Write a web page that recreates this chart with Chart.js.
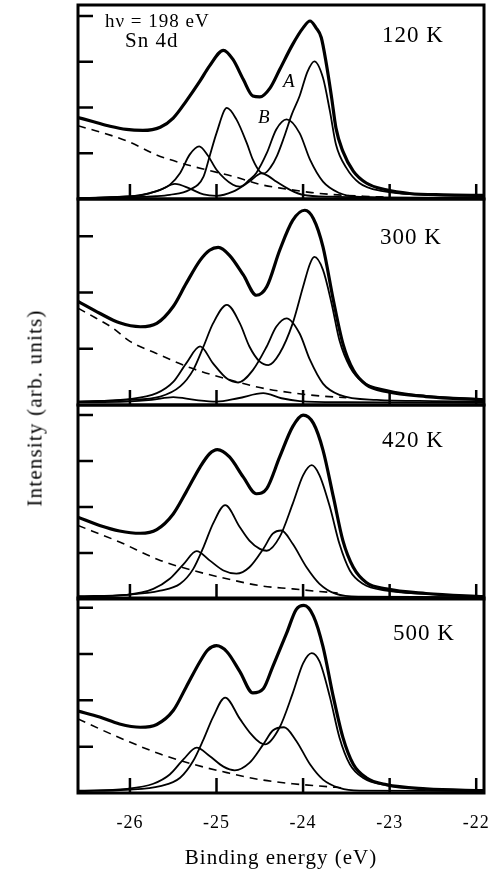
<!DOCTYPE html>
<html><head><meta charset="utf-8">
<script src="https://cdn.jsdelivr.net/npm/chart.js@4.4.1/dist/chart.umd.min.js"></script>
<style>
html,body{margin:0;padding:0;background:#fff;overflow:hidden;}
#wrap{position:relative;width:488px;height:871px;overflow:hidden;background:#fff;}
canvas{position:absolute;left:0;}
#ylab{position:absolute;left:35px;top:408px;transform:translate(-50%,-50%) rotate(-90deg);font:21px "Liberation Serif",serif;letter-spacing:1.2px;white-space:nowrap;color:#000;}
</style></head><body>
<div id="wrap">
<canvas id="c1" width="510" height="202" style="top:1px;width:510px;height:202px"></canvas>
<canvas id="c2" width="510" height="214" style="top:195px;width:510px;height:214px"></canvas>
<canvas id="c3" width="510" height="202" style="top:401px;width:510px;height:202px"></canvas>
<canvas id="c4" width="510" height="277" style="top:594px;width:510px;height:277px"></canvas>
<div id="ylab"></div>
</div>
<script>
// ---- axis / tick data ----
const xMin = -26.6, xMax = -21.91;
const xTickValues = [-26, -25, -24, -23, -22];
const yTicksTall = [1, 2, 3, 4];
const yTicksShort = [1, 2, 3];
const panelTemps = ['120 K', '300 K', '420 K', '500 K'];
const xTitle = 'Binding energy (eV)';
const yTitle = 'Intensity (arb. units)';

// ---- panel 1 (120 K) ----
const p1Total = [[-26.6,1.78],[-26.42,1.69],[-26.23,1.59],[-26.04,1.52],[-25.85,1.50],[-25.65,1.57],[-25.5,1.77],[-25.35,2.14],[-25.19,2.58],[-25.08,2.91],[-24.92,3.25],[-24.81,3.05],[-24.69,2.61],[-24.58,2.25],[-24.5,2.23],[-24.38,2.43],[-24.27,2.83],[-24.12,3.38],[-24.0,3.74],[-23.92,3.89],[-23.85,3.74],[-23.79,3.53],[-23.73,2.94],[-23.67,2.21],[-23.62,1.55],[-23.54,1.04],[-23.42,0.61],[-23.27,0.35],[-23.04,0.20],[-22.77,0.12],[-22.38,0.09],[-21.9,0.08]];
const p1A = [[-26.6,0.02],[-26.0,0.04],[-25.7,0.06],[-25.54,0.09],[-25.31,0.20],[-25.15,0.49],[-25.08,0.93],[-25.0,1.44],[-24.88,1.99],[-24.77,1.74],[-24.65,1.22],[-24.58,0.86],[-24.5,0.60],[-24.45,0.56],[-24.38,0.68],[-24.3,0.95],[-24.22,1.35],[-24.13,1.85],[-24.04,2.25],[-23.95,2.78],[-23.87,3.01],[-23.77,2.65],[-23.69,1.92],[-23.62,1.19],[-23.5,0.68],[-23.35,0.35],[-23.08,0.17],[-22.58,0.09],[-21.9,0.06]];
const p1B = [[-26.6,0.02],[-26.2,0.04],[-25.9,0.08],[-25.77,0.13],[-25.65,0.20],[-25.54,0.31],[-25.42,0.57],[-25.31,0.97],[-25.2,1.15],[-25.1,0.95],[-25.0,0.64],[-24.81,0.31],[-24.73,0.27],[-24.62,0.42],[-24.54,0.57],[-24.42,1.0],[-24.31,1.52],[-24.19,1.74],[-24.04,1.44],[-23.92,0.86],[-23.77,0.38],[-23.58,0.13],[-23.4,0.05],[-23.0,0.03],[-21.9,0.02]];
const p1C = [[-26.6,0.01],[-26.23,0.04],[-25.85,0.09],[-25.65,0.20],[-25.48,0.33],[-25.3,0.22],[-25.15,0.10],[-25.0,0.07],[-24.81,0.16],[-24.62,0.38],[-24.48,0.56],[-24.4,0.50],[-24.31,0.38],[-24.15,0.20],[-24.0,0.09],[-23.66,0.05],[-23.0,0.03],[-21.9,0.02]];
const p1Bg = [[-26.6,1.60],[-26.3,1.44],[-26.0,1.24],[-25.7,0.97],[-25.4,0.78],[-25.1,0.63],[-24.8,0.49],[-24.5,0.32],[-24.2,0.22],[-23.9,0.14],[-23.6,0.09],[-23.3,0.06],[-23.0,0.04]];

// ---- panel 2 (300 K) ----
const p2Total = [[-26.6,1.84],[-26.35,1.63],[-26.12,1.46],[-25.88,1.39],[-25.69,1.45],[-25.5,1.75],[-25.35,2.16],[-25.19,2.57],[-25.08,2.75],[-24.98,2.80],[-24.85,2.66],[-24.69,2.31],[-24.54,1.95],[-24.42,2.10],[-24.27,2.75],[-24.12,3.28],[-23.98,3.46],[-23.88,3.31],[-23.77,2.81],[-23.65,1.86],[-23.54,1.09],[-23.42,0.62],[-23.27,0.36],[-23.04,0.24],[-22.58,0.15],[-21.9,0.09]];
const p2A = [[-26.6,0.06],[-26.04,0.09],[-25.65,0.15],[-25.42,0.33],[-25.27,0.62],[-25.15,1.04],[-25.04,1.45],[-24.88,1.78],[-24.73,1.45],[-24.62,1.04],[-24.5,0.77],[-24.4,0.71],[-24.27,0.92],[-24.12,1.45],[-24.0,2.10],[-23.92,2.51],[-23.87,2.63],[-23.77,2.40],[-23.67,1.80],[-23.58,1.15],[-23.46,0.68],[-23.31,0.41],[-23.04,0.27],[-22.58,0.16],[-21.9,0.10]];
const p2B = [[-26.6,0.06],[-26.04,0.10],[-25.69,0.21],[-25.5,0.41],[-25.35,0.74],[-25.19,1.04],[-25.04,0.74],[-24.88,0.47],[-24.75,0.40],[-24.58,0.62],[-24.42,1.04],[-24.31,1.39],[-24.19,1.54],[-24.04,1.27],[-23.92,0.80],[-23.77,0.38],[-23.58,0.18],[-23.15,0.09],[-22.5,0.07],[-21.9,0.06]];
const p2C = [[-26.6,0.05],[-26.04,0.06],[-25.75,0.09],[-25.5,0.14],[-25.25,0.09],[-25.0,0.06],[-24.75,0.12],[-24.46,0.21],[-24.25,0.12],[-24.04,0.07],[-23.5,0.05],[-21.9,0.04]];
const p2Bg = [[-26.6,1.72],[-26.4,1.55],[-26.2,1.37],[-26.0,1.13],[-25.7,0.92],[-25.3,0.66],[-24.9,0.47],[-24.5,0.31],[-24.1,0.21],[-23.8,0.16],[-23.5,0.13]];

// ---- panel 3 (420 K) ----
const p3Total = [[-26.6,1.78],[-26.35,1.60],[-26.12,1.48],[-25.88,1.43],[-25.69,1.51],[-25.5,1.85],[-25.35,2.33],[-25.19,2.87],[-25.08,3.16],[-24.99,3.25],[-24.85,3.09],[-24.69,2.65],[-24.54,2.29],[-24.42,2.40],[-24.27,3.09],[-24.12,3.75],[-24.0,4.00],[-23.88,3.82],[-23.77,3.24],[-23.65,2.22],[-23.54,1.27],[-23.42,0.69],[-23.27,0.36],[-23.04,0.22],[-22.58,0.12],[-21.9,0.05]];
const p3A = [[-26.6,0.06],[-26.04,0.09],[-25.65,0.18],[-25.42,0.33],[-25.27,0.65],[-25.15,1.13],[-25.04,1.64],[-24.9,2.04],[-24.73,1.56],[-24.62,1.27],[-24.5,1.09],[-24.42,1.05],[-24.27,1.35],[-24.12,2.07],[-24.0,2.69],[-23.9,2.91],[-23.81,2.69],[-23.69,2.00],[-23.58,1.20],[-23.46,0.62],[-23.31,0.33],[-23.04,0.18],[-22.58,0.11],[-21.9,0.05]];
const p3B = [[-26.6,0.05],[-26.04,0.09],[-25.73,0.22],[-25.54,0.44],[-25.38,0.76],[-25.23,1.04],[-25.08,0.84],[-24.92,0.62],[-24.77,0.55],[-24.62,0.69],[-24.46,1.09],[-24.35,1.42],[-24.25,1.49],[-24.12,1.20],[-23.96,0.69],[-23.81,0.33],[-23.62,0.11],[-23.35,0.05],[-21.9,0.04]];
const p3Bg = [[-26.6,1.60],[-26.12,1.24],[-25.65,0.84],[-25.27,0.62],[-24.88,0.44],[-24.5,0.29],[-24.12,0.22],[-23.85,0.17],[-23.6,0.13]];

// ---- panel 4 (500 K) ----
const p4Total = [[-26.6,1.77],[-26.35,1.64],[-26.12,1.49],[-25.88,1.42],[-25.69,1.48],[-25.5,1.78],[-25.35,2.29],[-25.19,2.84],[-25.1,3.09],[-25.0,3.18],[-24.88,3.05],[-24.73,2.62],[-24.58,2.16],[-24.46,2.25],[-24.35,2.73],[-24.19,3.45],[-24.08,3.96],[-23.99,4.05],[-23.88,3.82],[-23.77,3.16],[-23.65,2.07],[-23.54,1.20],[-23.42,0.62],[-23.27,0.33],[-23.04,0.18],[-22.58,0.09],[-21.9,0.05]];
const p4A = [[-26.6,0.04],[-26.04,0.07],[-25.65,0.15],[-25.42,0.33],[-25.27,0.69],[-25.15,1.16],[-25.04,1.64],[-24.9,2.06],[-24.73,1.60],[-24.6,1.27],[-24.5,1.09],[-24.44,1.05],[-24.27,1.42],[-24.12,2.15],[-24.0,2.80],[-23.9,3.02],[-23.81,2.84],[-23.69,2.07],[-23.58,1.20],[-23.46,0.62],[-23.31,0.33],[-23.04,0.17],[-22.58,0.09],[-21.9,0.05]];
const p4B = [[-26.6,0.05],[-26.04,0.09],[-25.73,0.20],[-25.54,0.40],[-25.38,0.73],[-25.23,0.98],[-25.08,0.80],[-24.92,0.57],[-24.79,0.49],[-24.62,0.65],[-24.46,1.05],[-24.35,1.35],[-24.22,1.42],[-24.08,1.13],[-23.92,0.62],[-23.77,0.29],[-23.58,0.11],[-23.35,0.05],[-21.9,0.04]];
const p4Bg = [[-26.6,1.60],[-26.31,1.35],[-26.04,1.13],[-25.65,0.84],[-25.27,0.62],[-24.88,0.44],[-24.5,0.29],[-24.12,0.20],[-23.81,0.15],[-23.54,0.11]];

// ---- rendering ----
const SERIF = '"Liberation Serif", "Times New Roman", serif';

function curve(pts, w, dash) {
  return {
    data: pts.map(p => ({x: p[0], y: p[1]})),
    borderColor: '#000', borderWidth: w, borderDash: dash || [],
    pointRadius: 0, cubicInterpolationMode: 'monotone', fill: false,
    borderJoinStyle: 'round', borderCapStyle: 'butt'
  };
}

const decoPlugin = {
  id: 'deco',
  beforeDraw(chart) {
    if ('letterSpacing' in chart.ctx) chart.ctx.letterSpacing = '1px';
  },
  afterDatasetsDraw(chart, args, opts) {
    const {ctx, chartArea: a} = chart;
    const x = chart.scales.x, y = chart.scales.y;
    ctx.save();
    ctx.strokeStyle = '#000';
    ctx.lineWidth = 2.5;
    ctx.setLineDash([]);
    ctx.beginPath();
    xTickValues.forEach(v => { const px = x.getPixelForValue(v); ctx.moveTo(px, a.bottom); ctx.lineTo(px, a.bottom - 15); });
    opts.yTicks.forEach(v => { const py = y.getPixelForValue(v); ctx.moveTo(a.left, py); ctx.lineTo(a.left + 15, py); });
    ctx.stroke();
    ctx.lineWidth = 3;
    ctx.strokeRect(a.left, a.top, a.right - a.left, a.bottom - a.top);
    ctx.fillStyle = '#000';
    ctx.textBaseline = 'alphabetic';
    ctx.textAlign = 'left';
    if ('letterSpacing' in ctx) ctx.letterSpacing = '1px';
    opts.labels.forEach(l => { ctx.font = l.font; ctx.fillText(l.text, a.left + l.dx, a.top + l.dy); });
    ctx.restore();
  }
};

function panel(id, sets, ymax, yTicks, labels, bottom) {
  const datasets = [
    curve(sets.bg, 1.6, [8, 6]),
    ...sets.comps.map(c => curve(c, 1.8)),
    curve(sets.total, 3.2)
  ];
  const xScale = {
    type: 'linear', min: xMin, max: xMax, display: !!bottom,
    grid: {display: false, drawTicks: false}, border: {display: false},
    afterBuildTicks: s => { s.ticks = xTickValues.map(v => ({value: v})); },
    ticks: {color: '#000', padding: 19, maxRotation: 0, font: {family: SERIF, size: 18}, callback: v => String(v)},
    title: {display: !!bottom, text: xTitle, color: '#000', font: {family: SERIF, size: 21}, padding: 0}
  };
  if (bottom) xScale.afterFit = s => { s.height = 78; };
  new Chart(document.getElementById(id), {
    type: 'line',
    data: {datasets},
    options: {
      responsive: false, animation: false, devicePixelRatio: 1,
      layout: {padding: {left: 78, right: 26, top: 4, bottom: bottom ? 0 : 4}},
      plugins: {legend: {display: false}, tooltip: {enabled: false}, deco: {yTicks, labels}},
      scales: {
        x: xScale,
        y: {type: 'linear', min: 0, max: ymax, display: false}
      }
    },
    plugins: [decoPlugin]
  });
}

panel('c1', {total: p1Total, comps: [p1A, p1B, p1C], bg: p1Bg}, 4.24, yTicksTall, [
  {text: 'h\u03BD = 198 eV', dx: 27, dy: 22, font: '19px ' + SERIF},
  {text: 'Sn 4d', dx: 47, dy: 42, font: '21px ' + SERIF},
  {text: panelTemps[0], dx: 304, dy: 37, font: '23px ' + SERIF},
  {text: 'A', dx: 205, dy: 82, font: 'italic 19px ' + SERIF},
  {text: 'B', dx: 180, dy: 118, font: 'italic 19px ' + SERIF}
], false);
panel('c2', {total: p2Total, comps: [p2A, p2B, p2C], bg: p2Bg}, 3.66, yTicksShort, [
  {text: panelTemps[1], dx: 302, dy: 45, font: '23px ' + SERIF}
], false);
panel('c3', {total: p3Total, comps: [p3A, p3B], bg: p3Bg}, 4.22, yTicksTall, [
  {text: panelTemps[2], dx: 304, dy: 42, font: '23px ' + SERIF}
], false);
panel('c4', {total: p4Total, comps: [p4A, p4B], bg: p4Bg}, 4.21, yTicksTall, [
  {text: panelTemps[3], dx: 315, dy: 42, font: '23px ' + SERIF}
], true);
document.getElementById('ylab').textContent = yTitle;
</script>
</body></html>
